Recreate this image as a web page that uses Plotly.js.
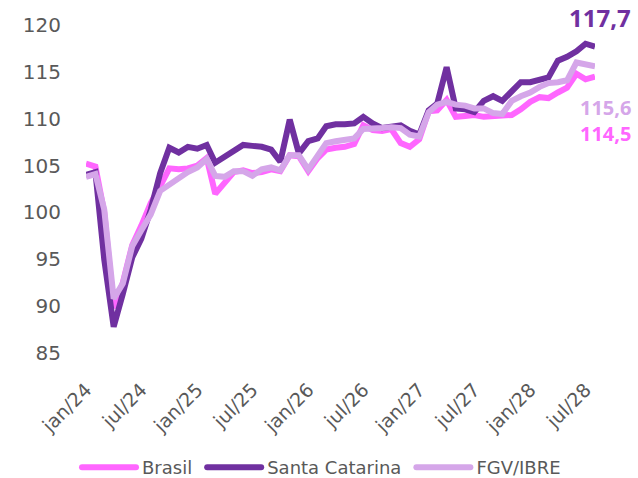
<!DOCTYPE html>
<html><head><meta charset="utf-8">
<script src="https://cdn.plot.ly/plotly-3.0.1.min.js"></script>
<style>html,body{margin:0;padding:0;background:#fff;}#chart{width:638px;height:478px;}</style>
</head><body><div id="chart"></div>
<script>
const months = [
 '2024-01','2024-02','2024-03','2024-04','2024-05','2024-06','2024-07','2024-08','2024-09','2024-10','2024-11','2024-12',
 '2025-01','2025-02','2025-03','2025-04','2025-05','2025-06','2025-07','2025-08','2025-09','2025-10','2025-11','2025-12',
 '2026-01','2026-02','2026-03','2026-04','2026-05','2026-06','2026-07','2026-08','2026-09','2026-10','2026-11','2026-12',
 '2027-01','2027-02','2027-03','2027-04','2027-05','2027-06','2027-07','2027-08','2027-09','2027-10','2027-11','2027-12',
 '2028-01','2028-02','2028-03','2028-04','2028-05','2028-06','2028-07','2028-08'];
const brasil = [105.2,104.9,100.0,89.8,92.5,96.5,98.6,101.0,102.8,104.7,104.6,104.7,
 105.0,105.8,102.0,103.3,104.3,104.5,104.2,104.3,104.6,104.4,106.1,106.0,
 104.4,105.8,106.7,106.9,107.0,107.3,109.3,108.8,108.7,108.9,107.4,107.0,
 107.8,110.8,110.9,112.0,110.2,110.3,110.4,110.2,110.3,110.3,110.4,111.0,
 111.8,112.3,112.2,112.8,113.3,114.8,114.2,114.5];
const santaCatarina = [104.0,104.3,95.0,87.8,91.3,95.2,97.2,100.3,104.2,106.9,106.4,107.0,
 106.8,107.2,105.3,106.0,106.5,107.2,107.1,107.0,106.7,105.4,109.9,106.3,
 107.6,107.9,109.2,109.4,109.4,109.5,110.2,109.5,109.0,109.2,109.3,108.7,
 108.3,110.9,111.6,115.5,111.1,111.0,110.7,111.9,112.4,111.9,112.9,113.9,
 113.9,114.2,114.4,116.2,116.6,117.2,118.0,117.7];
const fgvIbre = [103.8,104.1,100.3,90.8,92.4,96.4,98.1,99.8,102.3,103.0,103.6,104.3,
 104.8,105.7,103.9,103.8,104.4,104.4,103.9,104.6,104.8,104.5,106.1,106.1,
 104.6,106.0,107.4,107.6,107.7,107.9,108.9,108.9,109.0,109.1,109.0,108.3,
 108.1,110.7,111.5,111.8,111.5,111.4,111.1,111.1,110.6,110.5,111.9,112.4,
 112.8,113.4,113.8,113.9,114.1,116.0,115.8,115.6];
const tickVals = ['2024-01','2024-07','2025-01','2025-07','2026-01','2026-07','2027-01','2027-07','2028-01','2028-07'];
const tickText = ['jan/24','jul/24','jan/25','jul/25','jan/26','jul/26','jan/27','jul/27','jan/28','jul/28'];
const names = ['Brasil','Santa Catarina','FGV/IBRE'];
const colors = ['#ff66ff','#7030a0','#d5a6e9'];
const lastLabels = ['114,5','117,7','115,6'];

const series = [brasil, santaCatarina, fgvIbre];
const traces = series.map((s,i)=>({
  x: months, y: s, type:'scatter', mode:'lines', name: names[i],
  line:{color: colors[i], width: 6, shape:'linear'}
}));
const font = "'DejaVu Sans', sans-serif";
const bfont = "'Open Sans', sans-serif";
const layout = {
  width:638, height:478,
  margin:{l:86, r:43, t:25, b:125, autoexpand:false},
  paper_bgcolor:'#ffffff', plot_bgcolor:'#ffffff',
  showlegend:true,
  legend:{orientation:'h', xref:'container', yref:'container', x:0.5, xanchor:'center', y:0.022, yanchor:'middle',
    font:{family:font, size:18, color:'#595959'}, itemwidth:60, traceorder:'normal', tracegroupgap:0},
  xaxis:{type:'date', tickvals: tickVals, ticktext: tickText, tickangle:-45, showgrid:false, zeroline:false, showline:false,
    tickfont:{family:font, size:19, color:'#595959'}, ticklabelstandoff:21, automargin:false},
  yaxis:{range:[85,120], dtick:5, showgrid:false, zeroline:false, showline:false,
    tickfont:{family:font, size:20, color:'#595959'}, ticklabelstandoff:24, automargin:false},
  annotations:[
    {xref:'paper', yref:'paper', x:1.075, y:1.024, xanchor:'right', yanchor:'middle', text:'<b>'+lastLabels[1]+'</b>', showarrow:false, font:{family:bfont, size:24, color:colors[1]}},
    {xref:'paper', yref:'paper', x:1.075, y:0.75, xanchor:'right', yanchor:'middle', text:'<b>'+lastLabels[2]+'</b>', showarrow:false, font:{family:bfont, size:20, color:colors[2]}},
    {xref:'paper', yref:'paper', x:1.075, y:0.668, xanchor:'right', yanchor:'middle', text:'<b>'+lastLabels[0]+'</b>', showarrow:false, font:{family:bfont, size:20, color:colors[0]}}
  ]
};
Plotly.newPlot('chart', traces, layout, {displayModeBar:false, staticPlot:true}).then(gd=>{
  gd.querySelectorAll('.legendlines path').forEach(p=>{ p.setAttribute('d','M10,0h54'); p.style.strokeLinecap='round'; });
});
</script></body></html>
